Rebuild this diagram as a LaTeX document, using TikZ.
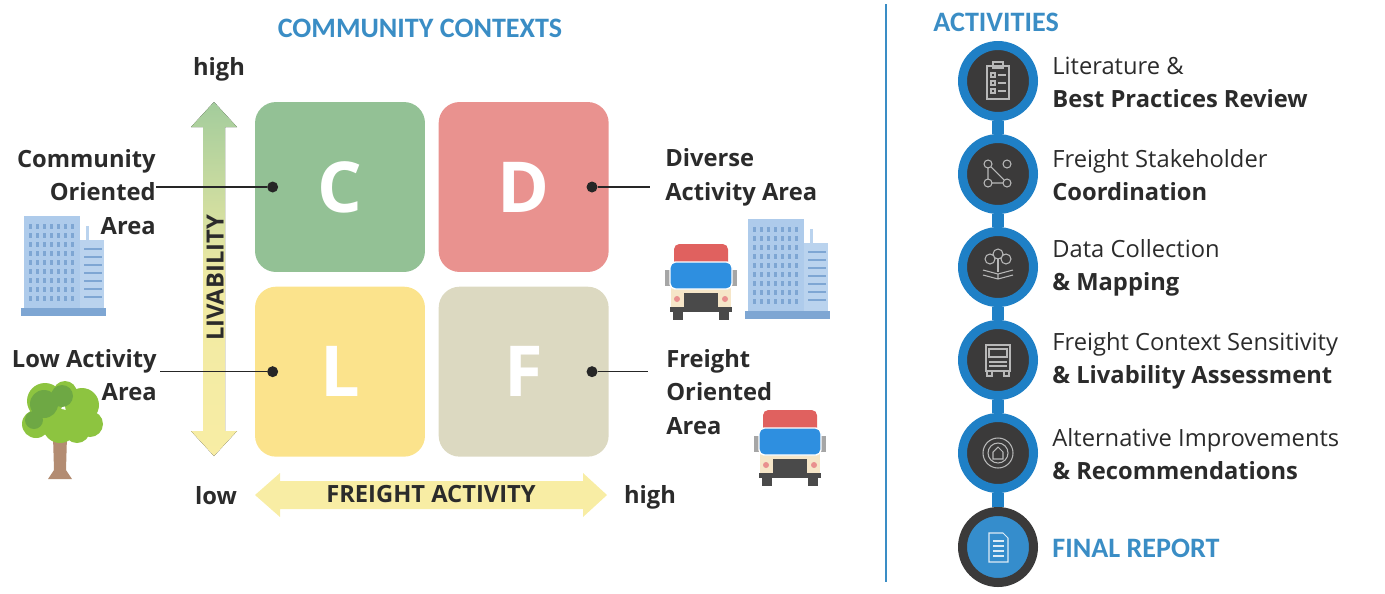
\documentclass[tikz,border=0pt]{standalone}
\usepackage{fontspec}
\setmainfont{Open Sans}
\newfontfamily\headfont{Carlito}
\usetikzlibrary{positioning}
\definecolor{ctxblue}{HTML}{3A8DC5}
\definecolor{ringblue}{HTML}{1F80C6}
\definecolor{ringdark}{HTML}{3B3A3A}
\definecolor{cgreen}{HTML}{93C195}
\definecolor{dred}{HTML}{E9928F}
\definecolor{lyellow}{HTML}{FBE38C}
\definecolor{fgrey}{HTML}{DCD9C1}
\definecolor{arrowgreen}{HTML}{A3CC9C}
\definecolor{arrowyellow}{HTML}{F8EDA4}
\definecolor{icongrey}{HTML}{B8B8B8}
\definecolor{bldblue}{HTML}{AECBEB}
\definecolor{bldwin}{HTML}{7EA6D3}
\definecolor{truckred}{HTML}{E0615F}
\definecolor{truckblue}{HTML}{2E8FE0}
\definecolor{truckcream}{HTML}{F6E6C8}
\definecolor{truckdark}{HTML}{4A4A4A}
\definecolor{leafa}{HTML}{8DC440}
\definecolor{leafb}{HTML}{6EA844}
\definecolor{bark}{HTML}{B38C72}
\definecolor{bodytext}{HTML}{2B2B2B}

\tikzset{
  building/.pic={
    \fill[bldblue] (0,0) rectangle (56,100);
    \fill[bldblue!85] (56,24) rectangle (80,100);
    \fill[bldblue!85] (62,10) rectangle (65,24);
    \fill[bldwin] (-3,92) rectangle (82,100);
    \foreach \i in {0,...,6}
      \foreach \j in {0,...,8}
        \fill[bldwin] (5+7*\i,8+9*\j) rectangle (8+7*\i,13+9*\j);
    \foreach \j in {0,...,6}
      \fill[bldwin] (60,32+8*\j) rectangle (78,34+8*\j);
  },
  truck/.pic={
    \fill[truckred, rounded corners=3] (-27,0) rectangle (27,24);
    \fill[gray!70] (-36,26) rectangle (-31,42);
    \fill[gray!70] (31,26) rectangle (36,42);
    \fill[truckcream] (-30,44) rectangle (30,64);
    \filldraw[fill=truckblue, draw=white, line width=0.8pt, rounded corners=3] (-31,18) rectangle (31,45);
    \fill[truckdark] (-17,49) rectangle (17,66);
    \fill[truckred!70] (-24,55) circle[radius=3] (24,55) circle[radius=3];
    \fill[truckdark] (-31,63) rectangle (31,68);
    \fill[truckdark] (-28,68) rectangle (-18,76);
    \fill[truckdark] (18,68) rectangle (28,76);
  }
}

\begin{document}
\begin{tikzpicture}[
    x=0.02cm, y=-0.02cm,
    node distance=0.28cm and 0.26cm,
    quad/.style={rounded corners=0.42cm, minimum width=3.4cm, minimum height=3.4cm, inner sep=0pt, text=white, font=\fontsize{40}{40}\selectfont\bfseries},
    dot/.style={circle, fill=black!85, minimum size=0.22cm, inner sep=0pt},
    ctxlabel/.style={inner sep=0pt, text=bodytext, font=\fontsize{13.5}{19.2}\selectfont\bfseries},
    axislabel/.style={inner sep=0pt, text=bodytext, font=\fontsize{13.5}{16}\selectfont\bfseries},
    heading/.style={inner sep=0pt, text=ctxblue, font=\fontsize{16}{19}\selectfont\headfont\bfseries},
    leader/.style={line width=0.9pt, draw=black!85},
    actcirc/.style={circle, draw=ringblue, line width=0.18cm, fill=ringdark, minimum size=1.42cm, inner sep=0pt},
    lastcirc/.style={circle, draw=ringdark, line width=0.18cm, fill=ringblue!90, minimum size=1.42cm, inner sep=0pt},
    actlink/.style={draw=ringblue, line width=0.24cm},
    acttext/.style={anchor=west, align=left, inner sep=0pt, text=bodytext, font=\fontsize{13.5}{18.8}\selectfont},
    icon/.style={draw=icongrey, line width=0.6pt}
  ]
    \useasboundingbox (0,0) rectangle (1385,593);

    % left panel
    \node[heading] (ctxhead) at (420,28) {COMMUNITY CONTEXTS};

    \fill[top color=arrowgreen, bottom color=arrowyellow, middle color=arrowyellow!90!arrowgreen]
      (214,102) -- (237,127) -- (225,127) -- (225,431) -- (237,431) -- (214,456)
      -- (191,431) -- (203,431) -- (203,127) -- (191,127) -- cycle;
    \fill[arrowyellow]
      (255,495) -- (280,473) -- (280,481) -- (583,481) -- (583,473) -- (607,495)
      -- (583,517) -- (583,509) -- (280,509) -- (280,517) -- cycle;

    \node[quad, fill=cgreen] (C) at (340,187) {C};
    \node[quad, fill=dred, right=of C] (D) {D};
    \node[quad, fill=lyellow, below=of C] (L) {L};
    \node[quad, fill=fgrey, right=of L] (F) {F};

    \node[axislabel, rotate=90] (livab) at (215,278) {LIVABILITY};
    \node[axislabel] (freight) at (431,494) {FREIGHT ACTIVITY};
    \node[axislabel] (livhigh) at (219,69) {high};
    \node[axislabel] (livlow) at (216,496) {low};
    \node[axislabel] (frhigh) at (650,497) {high};

    \node[dot] (cdot) at ([xshift=0.36cm]C.west) {};
    \node[dot] (ddot) at ([xshift=-0.34cm]D.east) {};
    \node[dot] (ldot) at ([xshift=0.36cm]L.west) {};
    \node[dot] (fdot) at ([xshift=-0.34cm]F.east) {};

    \node[ctxlabel, align=right, anchor=east] (clabel) at (156,192) {Community\\Oriented\\Area};
    \node[ctxlabel, align=left, anchor=west] (dlabel) at (665,177) {Diverse\\Activity Area};
    \node[ctxlabel, align=right, anchor=east] (llabel) at (157,375) {Low Activity\\Area};
    \node[ctxlabel, align=left, anchor=west] (flabel) at (666,392) {Freight\\Oriented\\Area};

    \draw[leader] (cdot) -- (clabel.east |- cdot);
    \draw[leader] (ddot) -- ([xshift=-0.3cm]dlabel.west |- ddot);
    \draw[leader] (ldot) -- ([xshift=0.06cm]llabel.east |- ldot);
    \draw[leader] (fdot) -- ([xshift=-0.36cm]flabel.west |- fdot);

    \pic at (24,216) {building};
    \pic at (748,219) {building};
    \pic at (701,244) {truck};
    \pic at (790,410) {truck};

    % tree
    \fill[bark] (53,436) -- (67,436) -- (66,470) -- (72,479) -- (48,479) -- (54,470) -- cycle;
    \draw[bark, line width=2pt] (60,444) -- (48,428) (60,446) -- (74,430);
    \fill[leafa] (45,401) circle[radius=18] (65,393) circle[radius=12] (82,405) circle[radius=17]
      (90,424) circle[radius=13] (36,424) circle[radius=14] (60,426) circle[radius=17]
      (77,430) circle[radius=13];
    \fill[leafb] (44,404) circle[radius=14] (62,396) circle[radius=11] (34,420) circle[radius=9];

    % separator
    \draw[ctxblue, line width=1.2pt] (886,4) -- (886,582);

    % right panel
    \node[heading, anchor=west] (acthead) at (933,22) {ACTIVITIES};

    \node[actcirc] (lit) at (998,81) {};
    \node[actcirc] (coord) at (998,174) {};
    \node[actcirc] (data) at (998,267) {};
    \node[actcirc] (sens) at (998,360) {};
    \node[actcirc] (alt) at (998,453) {};
    \node[lastcirc] (report) at (998,547) {};

    \draw[actlink] (lit) -- (coord);
    \draw[actlink] (coord) -- (data);
    \draw[actlink] (data) -- (sens);
    \draw[actlink] (sens) -- (alt);
    \draw[actlink] (alt) -- (report);

    \node[acttext] (littext) at (1052,82) {Literature \&\\\textbf{Best Practices Review}};
    \node[acttext] (coordtext) at (1052,175) {Freight Stakeholder\\\textbf{Coordination}};
    \node[acttext] (datatext) at (1052,268) {Data Collection\\\textbf{\& Mapping}};
    \node[acttext] (senstext) at (1052,361) {Freight Context Sensitivity\\\textbf{\& Livability Assessment}};
    \node[acttext] (alttext) at (1052,454) {Alternative Improvements\\\textbf{\& Recommendations}};
    \node[heading, anchor=west] (reporttext) at (1052,548) {FINAL REPORT};

    % icons
    \begin{scope}[shift={(lit.center)}]
      \draw[icon] (-11,-15) rectangle (11,18);
      \draw[icon] (-5,-19) rectangle (5,-13);
      \foreach \y in {-6,2,10} {
        \draw[icon] (-7,\y-2) rectangle (-3,\y+2);
        \draw[icon] (0,\y) -- (8,\y);
      }
    \end{scope}
    \begin{scope}[shift={(coord.center)}]
      \draw[icon] (-10,-10) circle[radius=4] (9,-10) circle[radius=4]
        (-10,9) circle[radius=4] (9,9) circle[radius=4];
      \draw[icon] (-10,-6) -- (-10,5) (-6,9) -- (5,9) (-7,-7) -- (6,6);
    \end{scope}
    \begin{scope}[shift={(data.center)}]
      \draw[icon] (-15,8) -- (0,12) -- (15,8) (-15,3) -- (0,7) -- (15,3) (0,7) -- (0,12);
      \draw[icon] (-8,-8) circle[radius=5] (0,-13) circle[radius=5] (8,-8) circle[radius=5];
      \draw[icon] (0,-8) -- (0,5);
    \end{scope}
    \begin{scope}[shift={(sens.center)}]
      \draw[icon] (-12,-15) rectangle (12,11);
      \draw[icon] (-9,-11) rectangle (9,-3);
      \draw[icon] (-9,2) -- (9,2) (-9,6) -- (9,6);
      \draw[icon] (-11,11) rectangle (-6,16) (6,11) rectangle (11,16);
    \end{scope}
    \begin{scope}[shift={(alt.center)}]
      \draw[icon] (0,0) circle[radius=15] (0,0) circle[radius=10];
      \draw[icon] (-5,6) -- (-5,-1) -- (0,-6) -- (5,-1) -- (5,6) -- cycle;
    \end{scope}
    \begin{scope}[shift={(report.center)}]
      \draw[icon, draw=white!85!ringblue] (-9,-14) -- (5,-14) -- (10,-9) -- (10,15) -- (-9,15) -- cycle;
      \foreach \y in {-6,-1,4,9}
        \draw[icon, draw=white!85!ringblue] (-5,\y) -- (6,\y);
    \end{scope}
\end{tikzpicture}
\end{document}
